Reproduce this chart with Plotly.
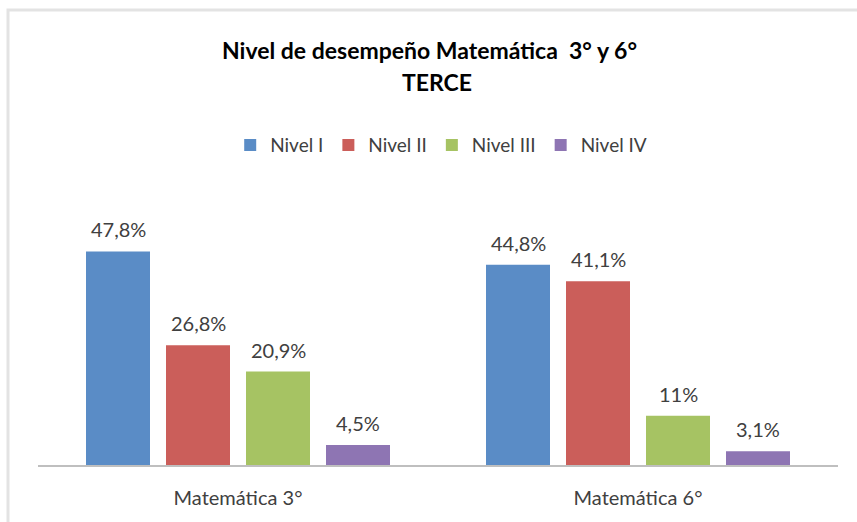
import plotly.graph_objects as go

categories = ["Matemática 3°", "Matemática 6°"]
series_names = ["Nivel I", "Nivel II", "Nivel III", "Nivel IV"]
values = {
    "Nivel I": [47.8, 44.8],
    "Nivel II": [26.8, 41.1],
    "Nivel III": [20.9, 11.0],
    "Nivel IV": [4.5, 3.1],
}
labels = {
    "Nivel I": ["47,8%", "44,8%"],
    "Nivel II": ["26,8%", "41,1%"],
    "Nivel III": ["20,9%", "11%"],
    "Nivel IV": ["4,5%", "3,1%"],
}
colors = ["#5A8CC6", "#CB5E5A", "#A6C363", "#8E75B3"]

FONT = "Lato"
TXT = "#404040"

fig = go.Figure()
for name, col in zip(series_names, colors):
    fig.add_trace(go.Bar(name=name, x=categories, y=values[name],
                         marker=dict(color=col, line=dict(width=0)),
                         hoverinfo="skip"))

annotations = []
offsets = [-120, -40, 40, 120]
for name, off in zip(series_names, offsets):
    for cat, v, lab in zip(categories, values[name], labels[name]):
        annotations.append(dict(x=cat, y=v, xref="x", yref="y", text=lab,
                                showarrow=False, xshift=off, yshift=22,
                                yanchor="middle",
                                font=dict(family=FONT, size=20, color=TXT)))

annotations.append(dict(x=0.489, y=1.431, xref="paper", yref="paper",
                        text="<b>Nivel de desempeño Matemática  3° y 6°</b>",
                        showarrow=False, yanchor="middle",
                        font=dict(family=FONT, size=23, color="#000000")))
annotations.append(dict(x=0.499, y=1.32, xref="paper", yref="paper",
                        text="<b>TERCE</b>", showarrow=False, yanchor="middle",
                        font=dict(family=FONT, size=23, color="#000000")))

fig.update_layout(
    width=857, height=522,
    margin=dict(l=38, r=19, t=175, b=57, pad=0),
    paper_bgcolor="white", plot_bgcolor="white",
    barmode="group", bargap=0.2, bargroupgap=0.2,
    showlegend=True,
    legend=dict(orientation="h", x=0.504, xanchor="center", y=1.103,
                yanchor="middle", font=dict(family=FONT, size=19, color=TXT),
                itemwidth=30, itemclick=False, itemdoubleclick=False),
    annotations=annotations,
    shapes=[dict(type="rect", xref="paper", yref="paper",
                 x0=-0.0375, x1=1.5, y0=-1.0, y1=1.569,
                 line=dict(color="#E3E3E3", width=3), fillcolor="rgba(0,0,0,0)",
                 layer="below")],
    xaxis=dict(showline=True, linecolor="#BFBFBF", linewidth=1.5, ticks="",
               showgrid=False, tickfont=dict(family=FONT, size=20, color=TXT),
               ticklabelstandoff=14, fixedrange=True),
    yaxis=dict(range=[0, 64.9], visible=False, showgrid=False, fixedrange=True),
)

fig.write_html("out.html", config={"displayModeBar": False},
               post_script="document.body.style.margin='0';")
